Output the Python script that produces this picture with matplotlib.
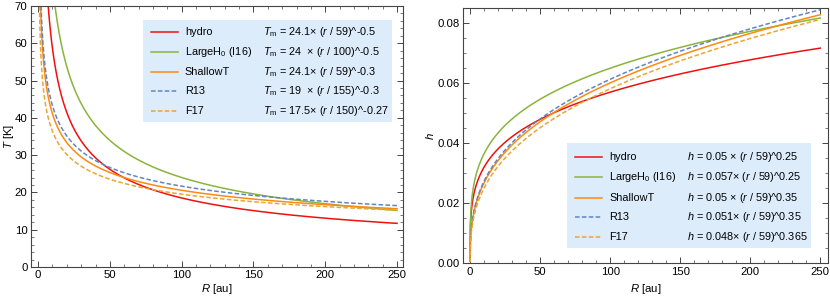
import numpy as np
import matplotlib
matplotlib.use("Agg")
import matplotlib.pyplot as plt
import matplotlib.patches as patches
from matplotlib.ticker import MultipleLocator

plt.rcParams["font.family"] = ["Liberation Sans", "DejaVu Sans"]
plt.rcParams["mathtext.fontset"] = "custom"
plt.rcParams["mathtext.rm"] = "Liberation Sans"
plt.rcParams["mathtext.it"] = "Liberation Sans:italic"
plt.rcParams["font.size"] = 8

# model names and power-law parameters read from the legends
models = ["hydro", "LargeH$_0$ (I16)", "ShallowT", "R13", "F17"]
colors = ["#f01010", "#8ab43c", "#ff8a10", "#5f86c4", "#eca434"]
styles = ["-", "-", "-", "--", "--"]

# temperature: T = T0 * (r / r0)^p
t_coef = [24.1, 24, 24.1, 19, 17.5]
t_rad = [59, 100, 59, 155, 150]
t_exp = [-0.5, -0.5, -0.3, -0.3, -0.27]
t_text = ["24.1× ($r$ / 59)^-0.5", "24  × ($r$ / 100)^-0.5", "24.1× ($r$ / 59)^-0.3",
          "19  × ($r$ / 155)^-0.3", "17.5× ($r$ / 150)^-0.27"]

# aspect ratio: h = h0 * (r / 59)^q
h_coef = [0.05, 0.057, 0.05, 0.051, 0.048]
h_rad = [59, 59, 59, 59, 59]
h_exp = [0.25, 0.25, 0.35, 0.35, 0.365]
h_text = ["0.05 × ($r$ / 59)^0.25", "0.057× ($r$ / 59)^0.25", "0.05 × ($r$ / 59)^0.35",
          "0.051× ($r$ / 59)^0.35", "0.048× ($r$ / 59)^0.365"]

r = np.linspace(1e-4, 250, 3000)
FS = 8.2      # ticks and axis labels
LFS = 7.8     # legend text


def style_axes(ax, xmaj, xmin, ymaj, ymin):
    ax.xaxis.set_major_locator(MultipleLocator(xmaj))
    ax.xaxis.set_minor_locator(MultipleLocator(xmin))
    ax.yaxis.set_major_locator(MultipleLocator(ymaj))
    ax.yaxis.set_minor_locator(MultipleLocator(ymin))
    ax.tick_params(which="both", direction="in", top=True, right=True,
                   labeltop=False, labelright=False, color="#444444")
    ax.tick_params(which="major", length=4, width=0.7, labelsize=FS, pad=2.5)
    ax.tick_params(which="minor", length=2, width=0.5)
    for s in ax.spines.values():
        s.set_color("#444444")
        s.set_linewidth(0.8)


def draw_legend(ax, box, rows, line_x, label_x, formula_x, prefix, texts):
    x0, y0, x1, y1 = box
    ax.add_patch(patches.Rectangle((x0, y0), x1 - x0, y1 - y0, transform=ax.transAxes,
                                   facecolor="#ddecfb", edgecolor="none", zorder=5))
    for i, yy in enumerate(rows):
        ax.plot(line_x, [yy, yy], transform=ax.transAxes, color=colors[i],
                ls=styles[i], lw=1.1, zorder=6,
                dashes=(3, 1.5) if styles[i] == "--" else (None, None))
        ax.text(label_x, yy, models[i], transform=ax.transAxes, va="center",
                ha="left", fontsize=LFS, zorder=6)
        ax.text(formula_x, yy, prefix + " = " + texts[i], transform=ax.transAxes,
                va="center", ha="left", fontsize=LFS, zorder=6)


fig = plt.figure(figsize=(8.3, 2.99), dpi=100)
ax1 = fig.add_axes([0.0373, 0.107, 0.448, 0.873])
ax2 = fig.add_axes([0.558, 0.120, 0.4396, 0.853])

for i in range(len(models)):
    T = t_coef[i] * (r / t_rad[i]) ** t_exp[i]
    ax1.plot(r, T, color=colors[i], ls=styles[i], lw=1.1,
             dashes=(3, 1.5) if styles[i] == "--" else (None, None))
    h = h_coef[i] * (r / h_rad[i]) ** h_exp[i]
    ax2.plot(r, h, color=colors[i], ls=styles[i], lw=1.1,
             dashes=(3, 1.5) if styles[i] == "--" else (None, None))

ax1.set_xlim(-5, 254)
ax1.set_ylim(0, 70)
ax1.set_xlabel("$R$ [au]", fontsize=FS)
ax1.set_ylabel("$T$ [K]", fontsize=FS)
ax1.xaxis.set_label_coords(0.5, -0.058)
ax1.yaxis.set_label_coords(-0.040, 0.5)
style_axes(ax1, 50, 10, 10, 2)

ax2.set_xlim(-5, 255.5)
ax2.set_ylim(0, 0.0851)
ax2.set_xlabel("$R$ [au]", fontsize=FS)
ax2.set_ylabel("$h$", fontsize=FS)
ax2.xaxis.set_label_coords(0.5, -0.075)
ax2.yaxis.set_label_coords(-0.074, 0.5)
style_axes(ax2, 50, 10, 0.02, 0.005)
ax2.yaxis.set_major_formatter(matplotlib.ticker.FormatStrFormatter("%.2f"))

draw_legend(ax1, (0.301, 0.556, 0.970, 0.946),
            [0.900, 0.824, 0.747, 0.674, 0.598],
            [0.323, 0.395], 0.414, 0.624, "$T_\\mathrm{m}$", t_text)
draw_legend(ax2, (0.285, 0.059, 0.953, 0.471),
            [0.415, 0.336, 0.257, 0.180, 0.102],
            [0.307, 0.381], 0.400, 0.614, "$h$", h_text)

fig.savefig("out.png", dpi=100)
